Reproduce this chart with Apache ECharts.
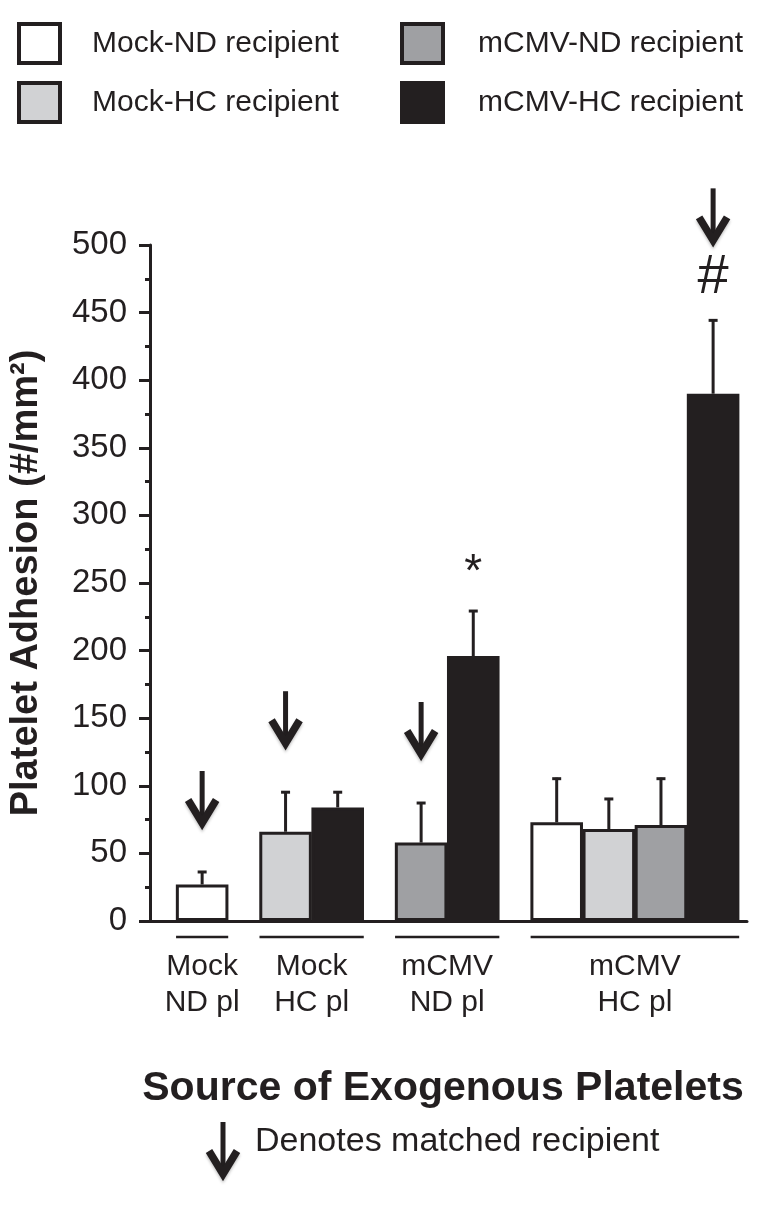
<!DOCTYPE html>
<html><head><meta charset="utf-8">
<script src="https://cdn.jsdelivr.net/npm/echarts@6/dist/echarts.min.js"></script>
<style>html,body{margin:0;padding:0;background:#fff}#c{width:762px;height:1222px}</style>
</head><body><div id="c"></div>
<script>
// ---------------- data ----------------
const groups = ['Mock\nND pl', 'Mock\nHC pl', 'mCMV\nND pl', 'mCMV\nHC pl'];
const recipients = ['Mock-ND recipient', 'Mock-HC recipient', 'mCMV-ND recipient', 'mCMV-HC recipient'];
const mockNDMean = [27, null, null, 73];
const mockHCMean = [null, 66, null, 68];
const mcmvNDMean = [null, null, 58, 71];
const mcmvHCMean = [null, 84, 196, 390];
const mockNDErr = [10, null, null, 33];
const mockHCErr = [null, 30, null, 23];
const mcmvNDErr = [null, null, 30, 35];
const mcmvHCErr = [null, 12, 34, 55];
const matchedRecipient = [0, 1, 2, 3];   // recipient index marked by arrow, per group
const sigGroup = [2, 3];
const sigRecipient = [3, 3];
const sigText = ['*', '#'];
const yMin = 0, yMax = 500, yStep = 50;
const yTitle = 'Platelet Adhesion (#/mm²)';
const xTitle = 'Source of Exogenous Platelets';
const arrowNote = 'Denotes matched recipient';

// ---------------- style / layout ----------------
const INK = '#231f20';
const FONT = '"Liberation Sans", Arial, Helvetica, sans-serif';
const fills = ['#ffffff', '#d1d2d4', '#9fa0a3', '#231f20'];
const means = [mockNDMean, mockHCMean, mcmvNDMean, mcmvHCMean];
const errs = [mockNDErr, mockHCErr, mcmvNDErr, mcmvHCErr];
const GRID = {left: 145, right: 15, top: 245, bottom: 301};
const LEAD = 0.5, GAP = 0.6, TRAIL = 0.15;

const pos = means.map(() => groups.map(() => null));
const groupSpan = [];
let cur = LEAD;
groups.forEach((g, gi) => {
  const start = cur;
  means.forEach((m, ri) => { if (m[gi] != null) { pos[ri][gi] = cur + 0.5; cur += 1; } });
  groupSpan.push([start, cur]);
  cur += GAP;
});
const xMax = cur - GAP + TRAIL;
const unitPx = (762 - GRID.left - GRID.right) / xMax;

const barSeries = recipients.map((name, ri) => ({
  type: 'bar', name: name, barWidth: unitPx, barGap: '-100%',
  itemStyle: {color: fills[ri], borderColor: INK, borderWidth: 3},
  data: groups.map((g, gi) => means[ri][gi] == null ? null : [pos[ri][gi], means[ri][gi]]).filter(d => d),
  z: 3, silent: true
}));

const errData = [];
means.forEach((m, ri) => groups.forEach((g, gi) => {
  if (m[gi] != null) errData.push([pos[ri][gi], m[gi], errs[ri][gi]]);
}));

function sigFor(gi, ri) {
  for (let i = 0; i < sigGroup.length; i++) if (sigGroup[i] === gi && sigRecipient[i] === ri) return sigText[i];
  return null;
}
const arrowData = groups.map((g, gi) => {
  const ri = matchedRecipient[gi];
  return [pos[ri][gi], means[ri][gi] + errs[ri][gi], sigFor(gi, ri) ? 1 : 0];
});
const sigData = sigGroup.map((gi, i) => {
  const ri = sigRecipient[i];
  return [pos[ri][gi], means[ri][gi] + errs[ri][gi], i];
});
const groupData = groupSpan.map((s, gi) => [s[0], s[1], gi]);

function arrowShapes(x, tip, color) {
  return [
    {type: 'line', shape: {x1: x, y1: tip - 56, x2: x, y2: tip - 4},
     style: {stroke: color, lineWidth: 5}},
    {type: 'polyline', shape: {points: [[x - 14, tip - 27], [x, tip - 4], [x + 14, tip - 27]]},
     style: {stroke: color, lineWidth: 7.5, fill: null, lineJoin: 'miter', lineCap: 'butt',
             shadowBlur: 3, shadowColor: 'rgba(0,0,0,0.25)', shadowOffsetY: 2}}
  ];
}

const sigStyle = {'*': {size: 46, lift: 37}, '#': {size: 56, lift: 42}};

const option = {
  backgroundColor: '#ffffff',
  animation: false,
  textStyle: {fontFamily: FONT},
  grid: GRID,
  legend: [
    {data: recipients.slice(0, 2), orient: 'vertical', left: 17, top: 22, padding: 0,
     itemWidth: 41, itemHeight: 39, itemGap: 16, icon: 'rect', selectedMode: false,
     itemStyle: {borderWidth: 4, borderColor: INK},
     textStyle: {fontSize: 30, color: INK, fontFamily: FONT, padding: [0, 0, 0, 27]}},
    {data: recipients.slice(2, 4), orient: 'vertical', left: 400, top: 22, padding: 0,
     itemWidth: 41, itemHeight: 39, itemGap: 16, icon: 'rect', selectedMode: false,
     itemStyle: {borderWidth: 4, borderColor: INK},
     textStyle: {fontSize: 30, color: INK, fontFamily: FONT, padding: [0, 0, 0, 30]}}
  ],
  xAxis: {
    type: 'value', min: 0, max: xMax,
    axisLine: {show: true, onZero: true, lineStyle: {color: INK, width: 3}},
    axisTick: {show: false}, axisLabel: {show: false}, splitLine: {show: false}
  },
  yAxis: {
    type: 'value', min: yMin, max: yMax, interval: yStep,
    axisLine: {show: true, lineStyle: {color: INK, width: 3}},
    axisTick: {show: true, length: 11, lineStyle: {color: INK, width: 3}},
    minorTick: {show: true, splitNumber: 2, length: 5, lineStyle: {color: INK, width: 3}},
    splitLine: {show: false},
    axisLabel: {fontSize: 33, color: INK, margin: 23, fontFamily: FONT},
    name: yTitle, nameLocation: 'middle', nameGap: 104, nameRotate: 90,
    nameTextStyle: {fontSize: 38, fontWeight: 'bold', color: INK, fontFamily: FONT}
  },
  series: barSeries.concat([
    {
      type: 'custom', name: 'err', z: 4, silent: true, data: errData,
      renderItem: function (params, api) {
        const x = api.value(0), v = api.value(1), e = api.value(2);
        const p0 = api.coord([x, v]);
        const p1 = api.coord([x, v + e]);
        return {type: 'group', children: [
          {type: 'line', shape: {x1: p0[0], y1: p0[1], x2: p1[0], y2: p1[1]}, style: {stroke: INK, lineWidth: 3}},
          {type: 'line', shape: {x1: p1[0] - 4.5, y1: p1[1] + 1, x2: p1[0] + 4.5, y2: p1[1] + 1}, style: {stroke: INK, lineWidth: 3}}
        ]};
      }
    },
    {
      type: 'custom', name: 'arrows', z: 5, silent: true, data: arrowData,
      renderItem: function (params, api) {
        const p = api.coord([api.value(0), api.value(1)]);
        const tip = p[1] - (api.value(2) ? 75 : 44);
        return {type: 'group', children: arrowShapes(p[0], tip, INK)};
      }
    },
    {
      type: 'custom', name: 'sig', z: 5, silent: true, data: sigData,
      renderItem: function (params, api) {
        const p = api.coord([api.value(0), api.value(1)]);
        const t = sigText[api.value(2)];
        const s = sigStyle[t];
        return {type: 'text', x: p[0], y: p[1] - s.lift,
          style: {text: t, fontSize: s.size, fontFamily: FONT, fill: INK, align: 'center', verticalAlign: 'middle'}};
      }
    },
    {
      type: 'custom', name: 'groups', z: 5, silent: true, clip: false, data: groupData,
      renderItem: function (params, api) {
        const a = api.coord([api.value(0), 0]);
        const b = api.coord([api.value(1), 0]);
        return {type: 'group', children: [
          {type: 'line', shape: {x1: a[0], y1: a[1] + 16, x2: b[0], y2: b[1] + 16}, style: {stroke: INK, lineWidth: 2.5}},
          {type: 'text', x: (a[0] + b[0]) / 2, y: a[1] + 64,
           style: {text: groups[api.value(2)], fontSize: 30, lineHeight: 36, fontFamily: FONT, fill: INK,
                   align: 'center', verticalAlign: 'middle'}}
        ]};
      }
    }
  ]),
  graphic: [
    {type: 'text', x: 443, y: 1089,
     style: {text: xTitle, fontSize: 41, fontWeight: 'bold', fontFamily: FONT, fill: INK, align: 'center', verticalAlign: 'middle'}},
    {type: 'group', children: arrowShapes(223, 1178, INK)},
    {type: 'text', x: 255, y: 1142,
     style: {text: arrowNote, fontSize: 34, fontFamily: FONT, fill: INK, align: 'left', verticalAlign: 'middle'}}
  ]
};

const chart = echarts.init(document.getElementById('c'), null, {renderer: 'canvas'});
chart.setOption(option);
</script>
</body></html>
